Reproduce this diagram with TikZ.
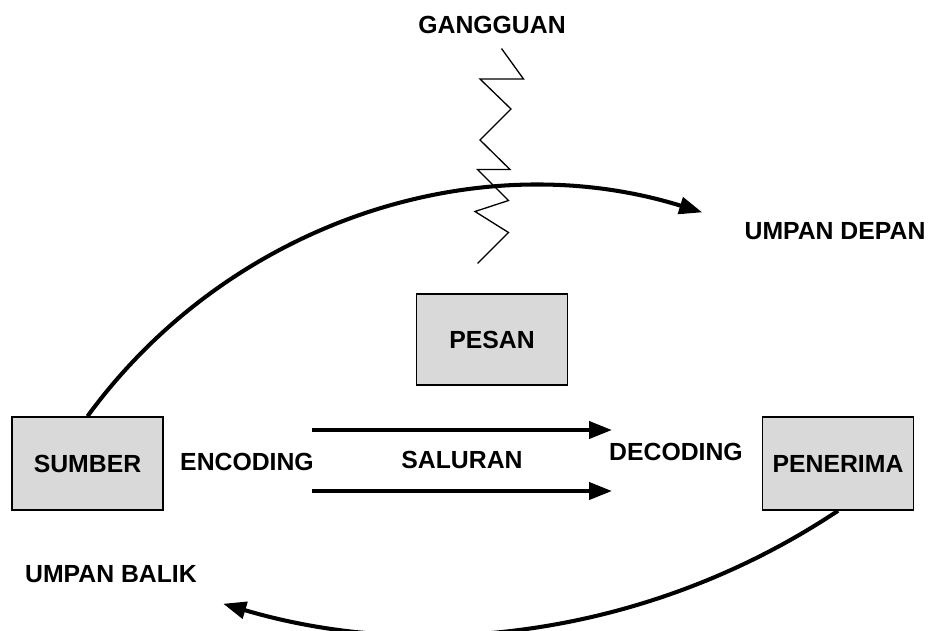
\documentclass[tikz,border=0pt]{standalone}
\usepackage{fontspec}
\setmainfont{Liberation Sans}
\usetikzlibrary{arrows.meta, positioning}
\definecolor{boxgray}{RGB}{217, 217, 217}

\begin{document}
\begin{tikzpicture}[
        box/.style={rectangle, draw, line width=0.85pt, fill=boxgray, minimum width=3.02cm, minimum height=1.86cm, align=center, font=\fontsize{14.1}{16}\selectfont\bfseries},
        label/.style={font=\fontsize{14.1}{16}\selectfont\bfseries, inner sep=0pt},
        arrow/.style={-{Triangle[length=0.46cm, width=0.34cm]}, line width=2.3pt},
        noise/.style={line width=0.75pt}
    ]
        \useasboundingbox (0,0) rectangle (18.68,12.6);

        \node[box] (sumber) at (1.75,3.33) {SUMBER};
        \node[box, minimum height=1.82cm] (pesan) at (9.84,5.81) {PESAN};
        \node[box] (penerima) at (16.76,3.33) {PENERIMA};

        \node[label] (gangguan) at (9.84,12.1) {GANGGUAN};
        \node[label] (depan) at (16.7,7.98) {UMPAN DEPAN};
        \node[label] (encoding) at (4.94,3.36) {ENCODING};
        \node[label] (saluran) at (9.24,3.4) {SALURAN};
        \node[label] (decoding) at (13.52,3.56) {DECODING};
        \node[label] (balik) at (2.22,1.12) {UMPAN BALIK};

        \coordinate (a1) at (6.24,4.0);
        \coordinate (b1) at (12.24,4.0);
        \coordinate (a2) at (6.24,2.78);
        \coordinate (b2) at (12.24,2.78);

        % saluran
        \draw[arrow] (a1) -- (b1);
        \draw[arrow] (a2) -- (b2);

        % umpan depan dan umpan balik
        \draw[arrow] (sumber.north) arc[start angle=143.9, end angle=72.8, radius=11.14cm];
        \draw[arrow] (penerima.south) arc[start angle=-56.3, end angle=-106.5, radius=14.66cm];

        % gangguan
        \draw[noise] (10.03,11.63) -- (10.47,11.02) -- (9.6,11.02) -- (10.22,10.42)
            -- (9.6,9.8) -- (10.2,9.21) -- (9.55,9.21) -- (10.17,8.59)
            -- (9.5,8.37) -- (10.17,7.95) -- (9.55,7.33);
    \end{tikzpicture}
\end{document}
